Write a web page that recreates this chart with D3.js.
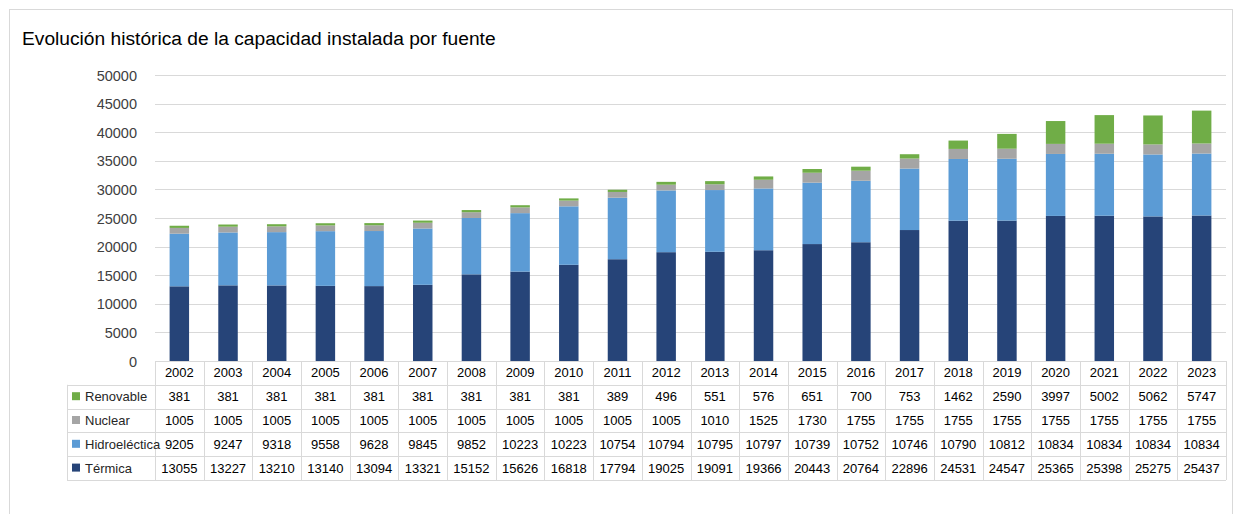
<!DOCTYPE html>
<html>
<head>
<meta charset="utf-8">
<script src="https://cdn.jsdelivr.net/npm/d3@7"></script>
<style>
  body { margin: 0; background: #fff; }
  svg { display: block; }
</style>
</head>
<body>
<script>
const years = ["2002", "2003", "2004", "2005", "2006", "2007", "2008", "2009", "2010", "2011", "2012",
  "2013", "2014", "2015", "2016", "2017", "2018", "2019", "2020", "2021", "2022", "2023"];
const termica = [13055, 13227, 13210, 13140, 13094, 13321, 15152, 15626, 16818, 17794, 19025,
  19091, 19366, 20443, 20764, 22896, 24531, 24547, 25365, 25398, 25275, 25437];
const hidro = [9205, 9247, 9318, 9558, 9628, 9845, 9852, 10223, 10223, 10754, 10794,
  10795, 10797, 10739, 10752, 10746, 10790, 10812, 10834, 10834, 10834, 10834];
const nuclear = [1005, 1005, 1005, 1005, 1005, 1005, 1005, 1005, 1005, 1005, 1005,
  1010, 1525, 1730, 1755, 1755, 1755, 1755, 1755, 1755, 1755, 1755];
const renovable = [381, 381, 381, 381, 381, 381, 381, 381, 381, 389, 496,
  551, 576, 651, 700, 753, 1462, 2590, 3997, 5002, 5062, 5747];
const yTicks = [0, 5000, 10000, 15000, 20000, 25000, 30000, 35000, 40000, 45000, 50000];

const series = [
  { key: "Térmica", values: termica, color: "#264478" },
  { key: "Hidroeléctica", values: hidro, color: "#5b9bd5" },
  { key: "Nuclear", values: nuclear, color: "#a5a5a5" },
  { key: "Renovable", values: renovable, color: "#70ad47" },
];
// table rows are listed top-down in reverse stack order
const tableRows = series.slice().reverse();

const width = 1235;
const height = 514;
const plot = { left: 155, right: 1226, top: 75, bottom: 361 };
const rowH = 23.8;
const legendLeft = 67;

const rows = years.map((y, i) => {
  const r = { year: y };
  series.forEach((s) => (r[s.key] = s.values[i]));
  return r;
});
const stackData = d3.stack().keys(series.map((s) => s.key))(rows);

const x = d3.scaleBand().domain(years).range([plot.left, plot.right]).paddingInner(0).paddingOuter(0);
const y = d3.scaleLinear().domain([0, 50000]).range([plot.bottom, plot.top]);
const barW = x.bandwidth() / 2.5;

const svg = d3.select("body").append("svg").attr("width", width).attr("height", height);

svg.append("rect")
  .attr("x", 9.5).attr("y", 9.5)
  .attr("width", 1223).attr("height", 520)
  .attr("fill", "#fff").attr("stroke", "#d9d9d9");

svg.append("text")
  .attr("x", 22).attr("y", 45)
  .attr("font-family", "Liberation Sans, Arial, sans-serif")
  .attr("font-size", 19.2).attr("fill", "#000")
  .text("Evolución histórica de la capacidad instalada por fuente");

// gridlines
svg.append("g")
  .selectAll("line")
  .data(yTicks)
  .join("line")
  .attr("x1", plot.left).attr("x2", plot.right)
  .attr("y1", (d) => Math.round(y(d)) + 0.5).attr("y2", (d) => Math.round(y(d)) + 0.5)
  .attr("stroke", "#d9d9d9").attr("stroke-width", 1);

// y axis labels
const yAxis = d3.axisLeft(y).tickValues(yTicks).tickSize(0).tickPadding(0).tickFormat(d3.format("d"));
svg.append("g")
  .attr("transform", `translate(137,0)`)
  .call(yAxis)
  .call((g) => g.select(".domain").remove())
  .call((g) => g.selectAll("text")
    .attr("font-family", "Liberation Sans, Arial, sans-serif")
    .attr("font-size", 14.5).attr("fill", "#404040").attr("dy", "0.35em"));

// bars
const colorOf = d3.scaleOrdinal().domain(series.map((s) => s.key)).range(series.map((s) => s.color));
svg.append("g")
  .selectAll("g")
  .data(stackData)
  .join("g")
  .attr("fill", (d) => colorOf(d.key))
  .selectAll("rect")
  .data((d) => d)
  .join("rect")
  .attr("x", (d) => x(d.data.year) + (x.bandwidth() - barW) / 2)
  .attr("y", (d) => y(d[1]))
  .attr("width", barW)
  .attr("height", (d) => y(d[0]) - y(d[1]));

// data table
const table = svg.append("g");
const tFont = "Liberation Sans, Arial, sans-serif";
const tSize = 13;
const tColor = "#000";
const lineColor = "#d9d9d9";
const tBottom = plot.bottom + rowH * 5;

// vertical lines for year columns (header + body)
table.selectAll("line.v")
  .data(years.concat(["end"]))
  .join("line")
  .attr("class", "v")
  .attr("x1", (d, i) => Math.round(plot.left + i * x.step()) + 0.5)
  .attr("x2", (d, i) => Math.round(plot.left + i * x.step()) + 0.5)
  .attr("y1", plot.bottom).attr("y2", tBottom)
  .attr("stroke", lineColor);

// legend column left line
table.append("line")
  .attr("x1", legendLeft + 0.5).attr("x2", legendLeft + 0.5)
  .attr("y1", plot.bottom + rowH).attr("y2", tBottom)
  .attr("stroke", lineColor);

// horizontal lines
table.selectAll("line.h")
  .data(d3.range(1, 6))
  .join("line")
  .attr("class", "h")
  .attr("x1", legendLeft).attr("x2", plot.right)
  .attr("y1", (d) => Math.round(plot.bottom + d * rowH) + 0.5)
  .attr("y2", (d) => Math.round(plot.bottom + d * rowH) + 0.5)
  .attr("stroke", lineColor);

// header years
table.selectAll("text.year")
  .data(years)
  .join("text")
  .attr("class", "year")
  .attr("x", (d) => x(d) + x.bandwidth() / 2)
  .attr("y", plot.bottom + rowH / 2)
  .attr("dy", "0.35em")
  .attr("text-anchor", "middle")
  .attr("font-family", tFont).attr("font-size", tSize).attr("fill", tColor)
  .text((d) => d);

const bodyRows = table.selectAll("g.row")
  .data(tableRows)
  .join("g")
  .attr("class", "row")
  .attr("transform", (d, i) => `translate(0,${plot.bottom + rowH * (i + 1) + rowH / 2})`);

bodyRows.append("rect")
  .attr("x", 72).attr("y", -4.5)
  .attr("width", 8).attr("height", 8)
  .attr("fill", (d) => d.color);

bodyRows.append("text")
  .attr("x", 85).attr("dy", "0.35em")
  .attr("font-family", tFont).attr("font-size", tSize).attr("fill", "#262626")
  .text((d) => d.key);

bodyRows.selectAll("text.val")
  .data((d) => d.values.map((v, i) => ({ v, year: years[i] })))
  .join("text")
  .attr("class", "val")
  .attr("x", (d) => x(d.year) + x.bandwidth() / 2)
  .attr("dy", "0.35em")
  .attr("text-anchor", "middle")
  .attr("font-family", tFont).attr("font-size", tSize).attr("fill", tColor)
  .text((d) => d.v);
</script>
</body>
</html>
